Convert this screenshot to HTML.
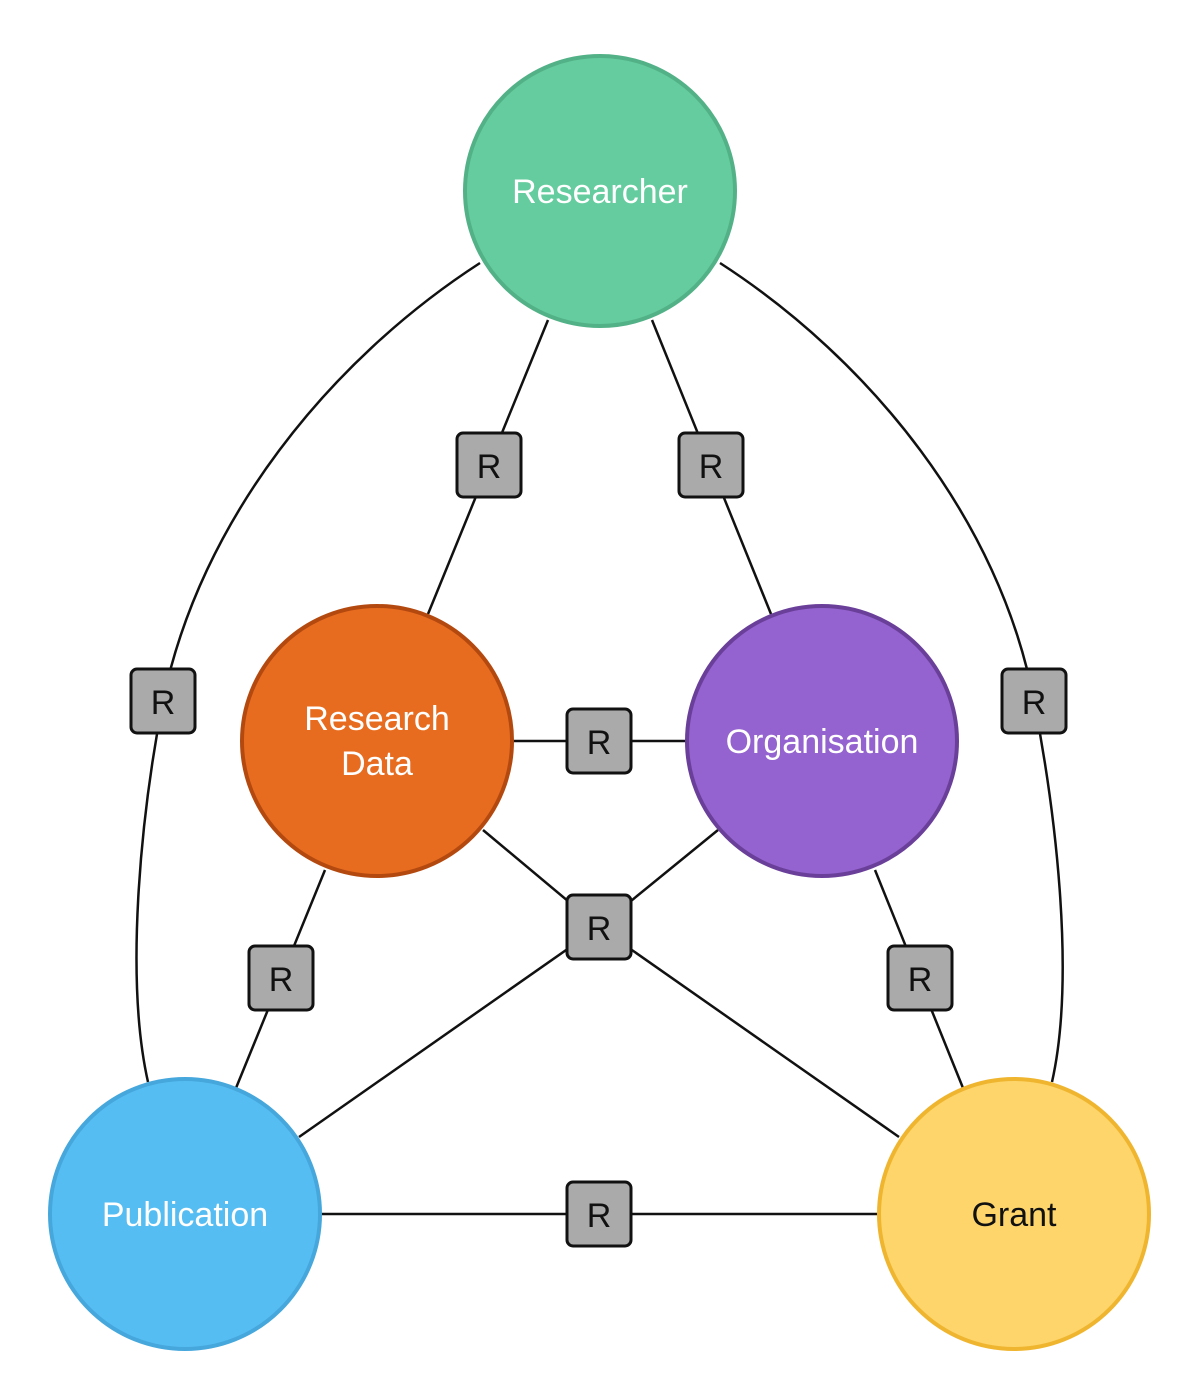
<!DOCTYPE html>
<html><head><meta charset="utf-8"><style>
html,body{margin:0;padding:0;background:#fff;}
svg{display:block;}
text{font-family:"Liberation Sans",Arial,sans-serif;}
</style></head><body>
<svg width="1200" height="1383" viewBox="0 0 1200 1383" xmlns="http://www.w3.org/2000/svg">
<g stroke="#111" stroke-width="2.5" fill="none">
<path d="M480,263 C330,360 200,520 163,701 C140,820 125,980 148,1082"/>
<path d="M720,263 C870,360 1000,520 1034,701 C1057,820 1075,980 1052,1082"/>
<line x1="548" y1="320" x2="428" y2="614"/>
<line x1="652" y1="320" x2="771" y2="614"/>
<line x1="325" y1="870" x2="236" y2="1088"/>
<line x1="875" y1="870" x2="963" y2="1088"/>
<line x1="483" y1="830" x2="599" y2="927"/>
<line x1="718" y1="830" x2="599" y2="927"/>
<line x1="599" y1="927" x2="299" y2="1137"/>
<line x1="599" y1="927" x2="899" y2="1137"/>
<line x1="510" y1="741" x2="690" y2="741"/>
<line x1="320" y1="1214" x2="880" y2="1214"/>
</g>
<g stroke-width="4">
<circle cx="600" cy="191" r="135" fill="#64cc9e" stroke="#52b186"/>
<circle cx="377" cy="741" r="135" fill="#e86c1f" stroke="#b4490f"/>
<circle cx="822" cy="741" r="135" fill="#9463cf" stroke="#6a3f9a"/>
<circle cx="185" cy="1214" r="135" fill="#56bdf3" stroke="#45a7dc"/>
<circle cx="1014" cy="1214" r="135" fill="#fdd56b" stroke="#efb52f"/>
</g>
<g font-size="34" text-anchor="middle" fill="#fff">
<text x="600" y="203">Researcher</text>
<text x="377" y="730">Research</text>
<text x="377" y="775">Data</text>
<text x="822" y="753">Organisation</text>
<text x="185" y="1226">Publication</text>
<text x="1014" y="1226" fill="#111">Grant</text>
</g>
<g>
<g transform="translate(489,465)"><rect x="-32" y="-32" width="64" height="64" rx="6" fill="#aaa" stroke="#111" stroke-width="3"/><text y="13" font-size="34" text-anchor="middle" fill="#111">R</text></g>
<g transform="translate(711,465)"><rect x="-32" y="-32" width="64" height="64" rx="6" fill="#aaa" stroke="#111" stroke-width="3"/><text y="13" font-size="34" text-anchor="middle" fill="#111">R</text></g>
<g transform="translate(163,701)"><rect x="-32" y="-32" width="64" height="64" rx="6" fill="#aaa" stroke="#111" stroke-width="3"/><text y="13" font-size="34" text-anchor="middle" fill="#111">R</text></g>
<g transform="translate(1034,701)"><rect x="-32" y="-32" width="64" height="64" rx="6" fill="#aaa" stroke="#111" stroke-width="3"/><text y="13" font-size="34" text-anchor="middle" fill="#111">R</text></g>
<g transform="translate(599,741)"><rect x="-32" y="-32" width="64" height="64" rx="6" fill="#aaa" stroke="#111" stroke-width="3"/><text y="13" font-size="34" text-anchor="middle" fill="#111">R</text></g>
<g transform="translate(599,927)"><rect x="-32" y="-32" width="64" height="64" rx="6" fill="#aaa" stroke="#111" stroke-width="3"/><text y="13" font-size="34" text-anchor="middle" fill="#111">R</text></g>
<g transform="translate(281,978)"><rect x="-32" y="-32" width="64" height="64" rx="6" fill="#aaa" stroke="#111" stroke-width="3"/><text y="13" font-size="34" text-anchor="middle" fill="#111">R</text></g>
<g transform="translate(920,978)"><rect x="-32" y="-32" width="64" height="64" rx="6" fill="#aaa" stroke="#111" stroke-width="3"/><text y="13" font-size="34" text-anchor="middle" fill="#111">R</text></g>
<g transform="translate(599,1214)"><rect x="-32" y="-32" width="64" height="64" rx="6" fill="#aaa" stroke="#111" stroke-width="3"/><text y="13" font-size="34" text-anchor="middle" fill="#111">R</text></g>
</g>
</svg>
</body></html>
